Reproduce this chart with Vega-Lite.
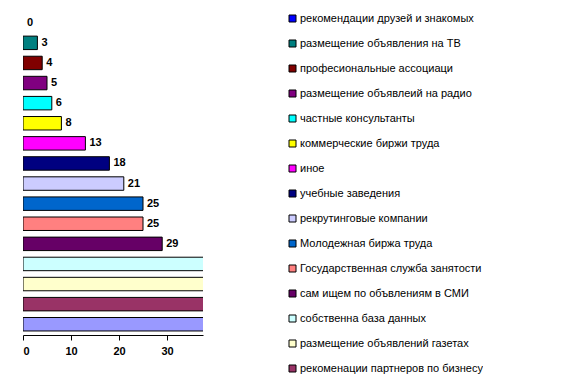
{
  "$schema": "https://vega.github.io/schema/vega-lite/v6.json",
  "width": 180,
  "height": 323,
  "padding": {"left": 22, "top": 12, "right": 0, "bottom": 0},
  "autosize": {"type": "pad"},
  "background": "white",
  "config": {"view": {"stroke": null}, "font": "Liberation Sans"},
  "data": {"values": [
    {"cat": "рекомендации друзей и знакомых", "v": 0},
    {"cat": "размещение объявления на ТВ", "v": 3},
    {"cat": "професиональные ассоциаци", "v": 4},
    {"cat": "размещение объявлеий на радио", "v": 5},
    {"cat": "частные консультанты", "v": 6},
    {"cat": "коммерческие биржи труда", "v": 8},
    {"cat": "иное", "v": 13},
    {"cat": "учебные заведения", "v": 18},
    {"cat": "рекрутинговые компании", "v": 21},
    {"cat": "Молодежная биржа труда", "v": 25},
    {"cat": "Государственная служба занятости", "v": 25},
    {"cat": "сам ищем по объвлениям в СМИ", "v": 29},
    {"cat": "собственна база данных", "v": 40},
    {"cat": "размещение объявлений  газетах", "v": 44},
    {"cat": "рекоменации партнеров по бизнесу", "v": 50},
    {"cat": "прочее", "v": 55}
  ]},
  "encoding": {
    "y": {"field": "cat", "type": "nominal", "sort": null,
          "scale": {"paddingInner": 0.33, "paddingOuter": 0.2},
          "axis": null},
    "x": {"field": "v", "type": "quantitative",
          "scale": {"domain": [0, 37.5], "nice": false, "zero": true},
          "axis": {"values": [0, 10, 20, 30], "title": null, "grid": false,
                   "domainColor": "black", "tickColor": "black", "tickSize": 5,
                   "labelFontWeight": "bold", "labelFontSize": 11, "labelColor": "black",
                   "labelPadding": 5, "labelFont": "Liberation Sans"}}
  },
  "layer": [
    {"mark": {"type": "bar", "stroke": "black", "strokeWidth": 1, "clip": true},
     "encoding": {
       "strokeOpacity": {"condition": {"test": "datum.v == 0", "value": 0}, "value": 1},
       "color": {"field": "cat", "type": "nominal",
         "scale": {
           "domain": ["рекомендации друзей и знакомых", "размещение объявления на ТВ", "професиональные ассоциаци", "размещение объявлеий на радио", "частные консультанты", "коммерческие биржи труда", "иное", "учебные заведения", "рекрутинговые компании", "Молодежная биржа труда", "Государственная служба занятости", "сам ищем по объвлениям в СМИ", "собственна база данных", "размещение объявлений  газетах", "рекоменации партнеров по бизнесу", "прочее"],
           "range": ["#0000FF", "#008080", "#800000", "#800080", "#00FFFF", "#FFFF00", "#FF00FF", "#000080", "#CCCCFF", "#0066CC", "#FF8080", "#660066", "#CCFFFF", "#FFFFCC", "#993366", "#9999FF"]},
         "legend": {
           "values": ["рекомендации друзей и знакомых", "размещение объявления на ТВ", "професиональные ассоциаци", "размещение объявлеий на радио", "частные консультанты", "коммерческие биржи труда", "иное", "учебные заведения", "рекрутинговые компании", "Молодежная биржа труда", "Государственная служба занятости", "сам ищем по объвлениям в СМИ", "собственна база данных", "размещение объявлений  газетах", "рекоменации партнеров по бизнесу"],
           "title": null, "orient": "none", "legendX": 264, "legendY": 1,
           "symbolType": "square", "symbolSize": 49, "symbolStrokeColor": "black", "symbolStrokeWidth": 1,
           "labelFontSize": 11, "labelColor": "black", "labelFont": "Liberation Sans",
           "labelLimit": 400, "rowPadding": 13, "labelOffset": 2, "padding": 0
         }}
     }},
    {"mark": {"type": "text", "align": "left", "dx": 4, "fontWeight": "bold", "fontSize": 11, "color": "black", "clip": true, "font": "Liberation Sans"},
     "encoding": {"text": {"field": "v", "type": "quantitative"}}}
  ]
}
